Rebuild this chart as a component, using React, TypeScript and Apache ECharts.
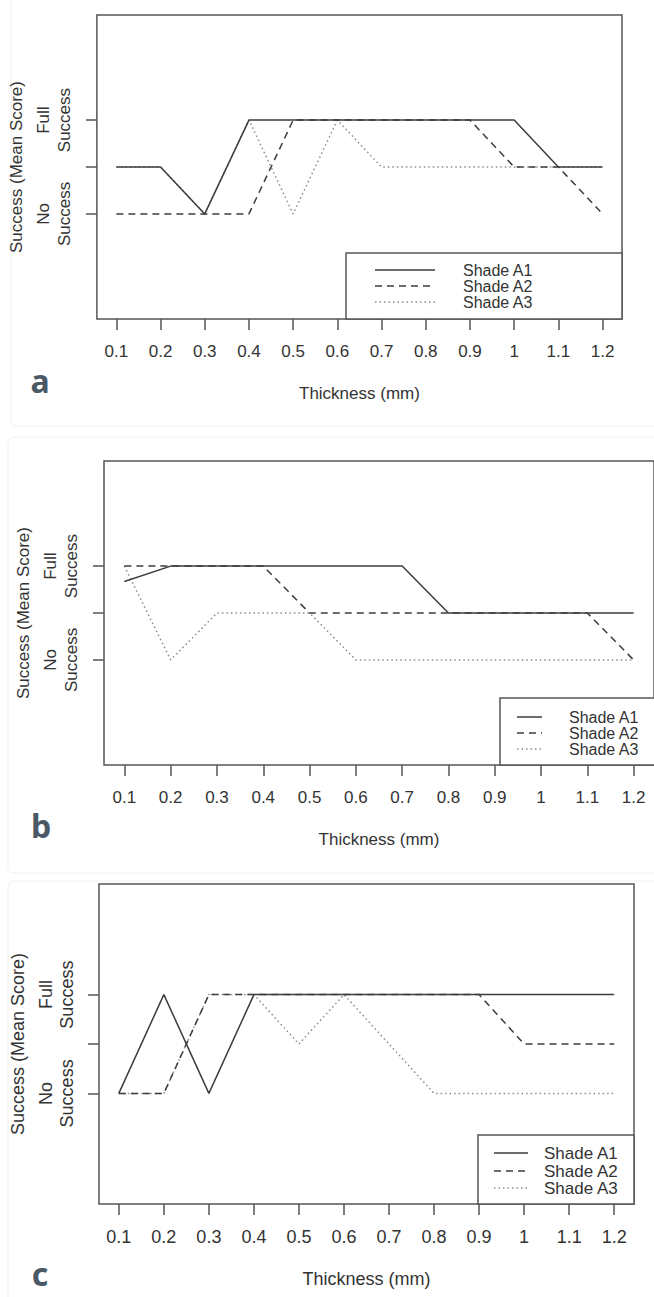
import React, { useEffect, useRef } from "react";
import * as echarts from "echarts";

// ---------- data ----------
const thickness = [0.1, 0.2, 0.3, 0.4, 0.5, 0.6, 0.7, 0.8, 0.9, 1.0, 1.1, 1.2];
const yTickValues = [0, 1, 2];
const yTickLabels = ["No\nSuccess", "", "Full\nSuccess"];
const seriesNames = ["Shade A1", "Shade A2", "Shade A3"];
const panelLetters = ["a", "b", "c"];
const xAxisTitle = "Thickness (mm)";
const yAxisTitle = "Success (Mean Score)";

// panel a
const aShadeA1 = [1, 1, 0, 2, 2, 2, 2, 2, 2, 2, 1, 1];
const aShadeA2 = [0, 0, 0, 0, 2, 2, 2, 2, 2, 1, 1, 0];
const aShadeA3 = [1, 1, 0, 2, 0, 2, 1, 1, 1, 1, 1, 1];
// panel b
const bShadeA1 = [1.67, 2, 2, 2, 2, 2, 2, 1, 1, 1, 1, 1];
const bShadeA2 = [2, 2, 2, 2, 1, 1, 1, 1, 1, 1, 1, 0];
const bShadeA3 = [2, 0, 1, 1, 1, 0, 0, 0, 0, 0, 0, 0];
// panel c
const cShadeA1 = [0, 2, 0, 2, 2, 2, 2, 2, 2, 2, 2, 2];
const cShadeA2 = [0, 0, 2, 2, 2, 2, 2, 2, 2, 1, 1, 1];
const cShadeA3 = [0, 0, 2, 2, 1, 2, 1, 0, 0, 0, 0, 0];

const panelData = [
  [aShadeA1, aShadeA2, aShadeA3],
  [bShadeA1, bShadeA2, bShadeA3],
  [cShadeA1, cShadeA2, cShadeA3],
];

// ---------- styles / layout ----------
const FONT = "'Liberation Sans', Arial, Helvetica, sans-serif";
const TEXT = "#333333";
const BOX = "#555555";
const LINE_STYLES: any[] = [
  { color: "#3c3c3c", width: 1.5, type: "solid" },
  { color: "#3c3c3c", width: 1.5, type: [7, 5] },
  { color: "#8c8c8c", width: 1.5, type: [1.5, 3] },
];

const layouts = [
  {
    grid: { left: 96, top: 15, width: 526, height: 304 },
    fs: 17,
    legend: { x: 346, y: 253, w: 276, h: 66, lx1: 375, lx2: 435, tx: 463, rows: [270, 286, 302], fs: 16 },
    letter: { x: 40, y: 396 },
    card: { x: 11, y: -20, w: 700, h: 446 },
  },
  {
    grid: { left: 104, top: 461, width: 559, height: 304 },
    fs: 17,
    legend: { x: 500, y: 698, w: 163, h: 67, lx1: 517, lx2: 542, tx: 569, rows: [717, 733, 749], fs: 16 },
    letter: { x: 41, y: 841 },
    card: { x: 8, y: 437, w: 700, h: 436 },
  },
  {
    grid: { left: 99, top: 884, width: 535, height: 320 },
    fs: 18,
    legend: { x: 478, y: 1135, w: 156, h: 69, lx1: 494, lx2: 528, tx: 544, rows: [1153, 1171, 1188], fs: 17 },
    letter: { x: 40, y: 1289 },
    card: { x: 8, y: 881, w: 700, h: 440 },
  },
];

function buildOption() {
  const grids: any[] = [];
  const xAxes: any[] = [];
  const yAxes: any[] = [];
  const series: any[] = [];
  const graphics: any[] = [];

  layouts.forEach((L, p) => {
    graphics.push({
      type: "rect",
      z: -10,
      shape: { x: L.card.x, y: L.card.y, width: L.card.w, height: L.card.h, r: 6 },
      style: { fill: "none", stroke: "#f0f0f0", lineWidth: 1 },
    });
    grids.push({
      ...L.grid,
      show: true,
      borderColor: BOX,
      borderWidth: 1.5,
      backgroundColor: "transparent",
      containLabel: false,
    });
    xAxes.push({
      type: "value",
      gridIndex: p,
      position: "bottom",
      min: 0.056,
      max: 1.244,
      name: xAxisTitle,
      nameLocation: "middle",
      nameGap: 66,
      nameTextStyle: { fontFamily: FONT, fontSize: L.fs, color: TEXT },
      axisLine: { show: false, onZero: false },
      splitLine: { show: false },
      axisTick: {
        show: true,
        customValues: thickness,
        length: 11,
        lineStyle: { color: BOX, width: 1.5 },
      },
      axisLabel: {
        customValues: thickness,
        margin: 24,
        fontFamily: FONT,
        fontSize: L.fs,
        color: TEXT,
        formatter: (v: number) => String(Math.round(v * 10) / 10),
      },
    });
    yAxes.push({
      type: "value",
      gridIndex: p,
      position: "left",
      min: -2.24,
      max: 4.24,
      name: yAxisTitle,
      nameLocation: "middle",
      nameRotate: 90,
      nameGap: 63,
      nameTextStyle: { fontFamily: FONT, fontSize: L.fs, color: TEXT },
      axisLine: { show: false, onZero: false },
      splitLine: { show: false },
      axisTick: {
        show: true,
        customValues: yTickValues,
        length: 11,
        lineStyle: { color: BOX, width: 1.5 },
      },
      axisLabel: {
        customValues: yTickValues,
        rotate: 90,
        margin: 22,
        fontFamily: FONT,
        fontSize: L.fs,
        lineHeight: 21,
        color: TEXT,
        formatter: (v: number) => {
          const i = yTickValues.indexOf(Math.round(v));
          return i >= 0 ? yTickLabels[i] : "";
        },
      },
    });
    panelData[p].forEach((vals, s) => {
      series.push({
        type: "line",
        name: seriesNames[s],
        xAxisIndex: p,
        yAxisIndex: p,
        symbol: "none",
        lineStyle: LINE_STYLES[s],
        z: 3 - s,
        data: thickness.map((t, i) => [t, vals[i]]),
      });
    });

    // legend box
    const lg = L.legend;
    graphics.push({
      type: "rect",
      z: 20,
      shape: { x: lg.x, y: lg.y, width: lg.w, height: lg.h },
      style: { fill: "#ffffff", stroke: BOX, lineWidth: 1.5 },
    });
    seriesNames.forEach((nm, s) => {
      const ls = LINE_STYLES[s];
      graphics.push({
        type: "line",
        z: 21,
        shape: { x1: lg.lx1, y1: lg.rows[s], x2: lg.lx2, y2: lg.rows[s] },
        style: {
          stroke: ls.color,
          lineWidth: ls.width,
          lineDash: ls.type === "solid" ? null : ls.type,
        },
      });
      graphics.push({
        type: "text",
        z: 21,
        x: lg.tx,
        y: lg.rows[s],
        style: {
          text: nm,
          fontFamily: FONT,
          fontSize: lg.fs,
          lineHeight: 15,
          fill: TEXT,
          align: "left",
          verticalAlign: "middle",
        },
      });
    });

    graphics.push({
      type: "text",
      z: 21,
      x: L.letter.x,
      y: L.letter.y,
      style: {
        text: panelLetters[p],
        fontFamily: "'Noto Sans', 'Open Sans', sans-serif",
        fontWeight: "bold",
        fontSize: 32,
        lineHeight: 32,
        fill: "#4b5966",
        align: "center",
        verticalAlign: "bottom",
      },
    });
  });

  return {
    animation: false,
    backgroundColor: "#ffffff",
    grid: grids,
    xAxis: xAxes,
    yAxis: yAxes,
    series,
    graphic: graphics,
  };
}

export default function App() {
  const ref = useRef<HTMLDivElement>(null);
  useEffect(() => {
    if (!ref.current) return;
    const chart = echarts.init(ref.current, undefined, { renderer: "svg" });
    chart.setOption(buildOption() as any);
    return () => chart.dispose();
  }, []);
  return (
    <div
      ref={ref}
      style={{ position: "absolute", left: 0, top: 0, width: 654, height: 1297, background: "#fff" }}
    />
  );
}
